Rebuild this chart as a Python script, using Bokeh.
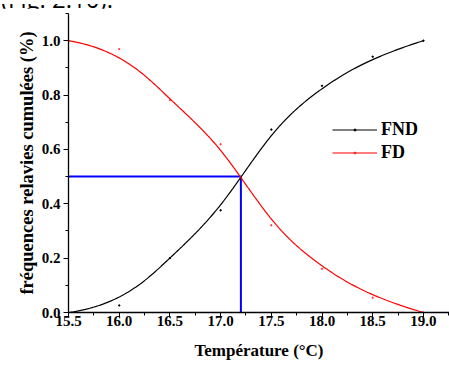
import numpy as np
from bokeh.plotting import figure
from bokeh.models import Legend, LegendItem, Range1d, FixedTicker, Title, Div
from bokeh.layouts import column
from bokeh.embed import file_html
from bokeh.resources import INLINE

# Cumulative relative frequencies by temperature
temperature = [15.5, 16.0, 16.5, 17.0, 17.5, 18.0, 18.5, 19.0]
fnd = [0.0, 0.026, 0.20, 0.376, 0.673, 0.834, 0.941, 1.0]
fd = [1.0, 0.969, 0.781, 0.619, 0.321, 0.161, 0.054, 0.0]

# Crossing point marked by the guide lines
t_cross = 17.2
f_cross = 0.5

x_ticks = [15.5, 16.0, 16.5, 17.0, 17.5, 18.0, 18.5, 19.0]
y_ticks = [0.0, 0.2, 0.4, 0.6, 0.8, 1.0]

SERIF = "Liberation Serif"
CAPTION_H = 8


def bspline(cx, cy, n_out=300, k=3):
    """Clamped cubic B-spline using the data points as control points."""
    cx = np.asarray(cx, float)
    cy = np.asarray(cy, float)
    n = len(cx)
    knots = np.concatenate([np.zeros(k + 1), np.arange(1, n - k), np.full(k + 1, n - k)])
    t = np.linspace(0, n - k, n_out)
    m = len(knots) - 1
    N = np.zeros((m, n_out))
    for i in range(m):
        N[i] = (knots[i] <= t) & (t < knots[i + 1])
    last = np.where(knots < knots[-1])[0][-1]
    N[last, t == knots[-1]] = 1.0
    for d in range(1, k + 1):
        Nn = np.zeros((m - d, n_out))
        for i in range(m - d):
            a = knots[i + d] - knots[i]
            b = knots[i + d + 1] - knots[i + 1]
            left = (t - knots[i]) / a * N[i] if a > 0 else 0.0
            right = (knots[i + d + 1] - t) / b * N[i + 1] if b > 0 else 0.0
            Nn[i] = left + right
        N = Nn
    return N[:n].T @ cx, N[:n].T @ cy


# Tail of the running text above the chart
caption = Div(
    text=(
        '<div style="position:relative;width:449px;height:%dpx;overflow:hidden;">'
        '<span style="position:absolute;left:1px;top:-17px;white-space:nowrap;'
        "font-family:'Open Sans';font-size:24px;line-height:1;color:black;\">"
        "(Fig. 2.10).</span></div>" % CAPTION_H
    ),
    width=449, height=CAPTION_H, margin=0,
)

p = figure(
    width=449, height=367 - CAPTION_H,
    output_backend="svg", toolbar_location=None,
    x_range=Range1d(15.5, 19.257), y_range=Range1d(0.0, 1.1),
    min_border_left=68, min_border_right=0,
    min_border_top=13 - CAPTION_H, min_border_bottom=55,
    margin=0,
)
p.outline_line_color = None
p.grid.visible = False
p.background_fill_color = "white"
p.border_fill_color = "white"

# Axes
p.xaxis.ticker = FixedTicker(ticks=x_ticks, minor_ticks=list(np.arange(15.5, 19.3, 0.25)))
p.yaxis.ticker = FixedTicker(ticks=y_ticks, minor_ticks=list(np.arange(0.0, 1.11, 0.1)))
p.xaxis.major_label_overrides = {v: f"{v:.1f}" for v in x_ticks}
p.yaxis.major_label_overrides = {v: f"{v:.1f}" for v in y_ticks}
for ax in (p.xaxis[0], p.yaxis[0]):
    ax.axis_line_color = "black"
    ax.axis_line_width = 1.3
    ax.major_tick_line_color = "black"
    ax.minor_tick_line_color = "black"
    ax.major_tick_in = 0
    ax.major_tick_out = 5
    ax.minor_tick_in = 0
    ax.minor_tick_out = 3
    ax.major_label_text_font = SERIF
    ax.major_label_text_font_style = "bold"
    ax.major_label_text_font_size = "15px"
    ax.major_label_text_color = "black"
p.xaxis.major_label_standoff = -2
p.yaxis.major_label_standoff = 3

p.xaxis.axis_label = "Température (°C)"
p.xaxis.axis_label_text_font = SERIF
p.xaxis.axis_label_text_font_style = "bold"
p.xaxis.axis_label_text_font_size = "17px"
p.xaxis.axis_label_text_color = "black"
p.xaxis.axis_label_standoff = 12

y_title = Title(
    text="fréquences relavies cumulées (%)", align="center", offset=-31,
    text_font=SERIF, text_font_style="bold", text_font_size="18.5px",
    text_color="black", standoff=4,
)
p.add_layout(y_title, "left")

# Guide lines at the 50 % crossing
p.line([temperature[0], t_cross], [f_cross, f_cross], line_color="blue", line_width=2)
p.line([t_cross, t_cross], [0.0, f_cross], line_color="blue", line_width=2)

# Curves
bx, by = bspline(temperature, fnd)
rx, ry = bspline(temperature, fd)
l_fnd = p.line(bx, by, line_color="black", line_width=1.2)
d_fnd = p.scatter(temperature, fnd, size=1.5, color="black")
l_fd = p.line(rx, ry, line_color="red", line_width=1.2)
d_fd = p.scatter(temperature, fd, size=1.5, color="red", alpha=0.6)

legend = Legend(
    items=[
        LegendItem(label="FND", renderers=[l_fnd, d_fnd]),
        LegendItem(label="FD", renderers=[l_fd, d_fd]),
    ],
    location=(264, 149),
    glyph_width=45, glyph_height=5, label_height=20,
    label_standoff=4, spacing=2, padding=0, margin=0,
    border_line_alpha=0, background_fill_alpha=0,
    label_text_font=SERIF, label_text_font_style="bold",
    label_text_font_size="18px", label_text_color="black",
)
p.add_layout(legend)

page = column(caption, p, spacing=0, margin=0)
open("out.html", "w").write(file_html(page, INLINE))
